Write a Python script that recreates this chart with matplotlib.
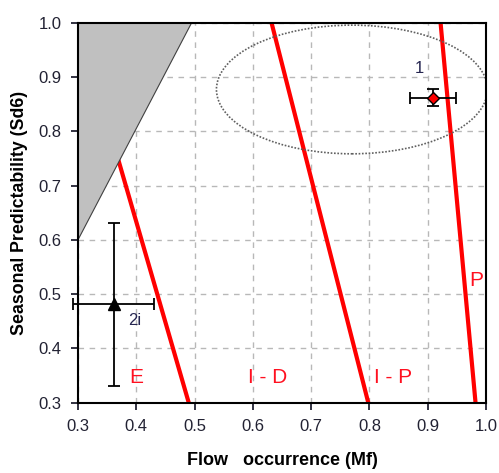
import matplotlib
matplotlib.use("Agg")
import matplotlib.pyplot as plt
from matplotlib.patches import Ellipse, Polygon

plt.rcParams['font.family'] = ['Liberation Sans', 'DejaVu Sans']

# Data
boundary_names = ["E", "I - D", "I - P", "P"]
line_x_top = [0.301, 0.632, 0.922]
line_x_bottom = [0.490, 0.798, 0.982]
line_y_top = [1.0, 1.0, 1.0]
line_y_bottom = [0.3, 0.3, 0.3]

region_labels = ["E", "I - D", "I - P", "P"]
region_label_x = [0.40, 0.626, 0.84, 0.984]
region_label_y = [0.347, 0.347, 0.347, 0.526]

grey_x = [0.3, 0.3, 0.495]
grey_y = [1.0, 0.6, 1.0]

ellipse_center = (0.77, 0.877)
ellipse_width = 0.465
ellipse_height = 0.237

site_names = ["1", "2i"]
site_x = [0.909, 0.361]
site_y = [0.862, 0.481]
site_xerr = [0.040, 0.070]
site_yerr = [0.016, 0.150]
label_x = [0.885, 0.397]
label_y = [0.916, 0.452]

xticks = [0.3, 0.4, 0.5, 0.6, 0.7, 0.8, 0.9, 1.0]
yticks = [0.3, 0.4, 0.5, 0.6, 0.7, 0.8, 0.9, 1.0]

fig = plt.figure(figsize=(4.99, 4.73), dpi=100)
ax = fig.add_axes([0.1563, 0.1486, 0.8177, 0.8034])
ax.set_xlim(0.3, 1.0)
ax.set_ylim(0.3, 1.0)

ax.grid(True, color='#b8b8b8', linestyle=(0, (4, 4)), linewidth=1.0, zorder=0)

for xt, xb, yt, yb in zip(line_x_top, line_x_bottom, line_y_top, line_y_bottom):
    ax.plot([xt, xb], [yt, yb], color='#ff0000', linewidth=3.0, solid_capstyle='butt', zorder=2)

poly = Polygon(list(zip(grey_x, grey_y)), closed=True, facecolor='#c0c0c0',
               edgecolor='#404040', linewidth=0.8, zorder=3)
ax.add_patch(poly)

ell = Ellipse(ellipse_center, ellipse_width, ellipse_height, fill=False,
              edgecolor='#606060', linestyle=(0, (1, 1)), linewidth=1.2, zorder=2)
ax.add_patch(ell)

for lx, ly, lab in zip(region_label_x, region_label_y, region_labels):
    ax.text(lx, ly, lab, color='#ff1020', fontsize=15, ha='center', va='center', zorder=5)

# site 1
ax.errorbar(site_x[0], site_y[0], xerr=site_xerr[0], yerr=site_yerr[0], fmt='D',
            color='black', markerfacecolor='#ff0000', markeredgecolor='black',
            markersize=6, elinewidth=1.3, capsize=4, capthick=1.3, zorder=6, clip_on=False)
# site 2i
ax.errorbar(site_x[1], site_y[1], xerr=site_xerr[1], yerr=site_yerr[1], fmt='^',
            color='black', markerfacecolor='black', markeredgecolor='black',
            markersize=9, elinewidth=1.3, capsize=4, capthick=1.3, zorder=6, clip_on=False)

for lx, ly, lab in zip(label_x, label_y, site_names):
    ax.text(lx, ly, lab, color='#252550', fontsize=12, ha='center', va='center', zorder=7)

ax.set_xticks(xticks)
ax.set_yticks(yticks)
ax.set_xticklabels([f"{v:.1f}" for v in xticks])
ax.set_yticklabels([f"{v:.1f}" for v in yticks])
ax.tick_params(direction='out', length=5, width=1.3, labelsize=12, colors='#222233')
ax.tick_params(axis='y', pad=7)
ax.tick_params(axis='x', pad=7)
for s in ax.spines.values():
    s.set_linewidth(1.5)
    s.set_color('black')
    s.set_zorder(8)

ax.set_xlabel("Flow   occurrence (Mf)", fontsize=13, fontweight='bold', labelpad=13)
ax.set_ylabel("Seasonal Predictability (Sd6)", fontsize=12.8, fontweight='bold', labelpad=7)

fig.savefig("out.png", dpi=100)
